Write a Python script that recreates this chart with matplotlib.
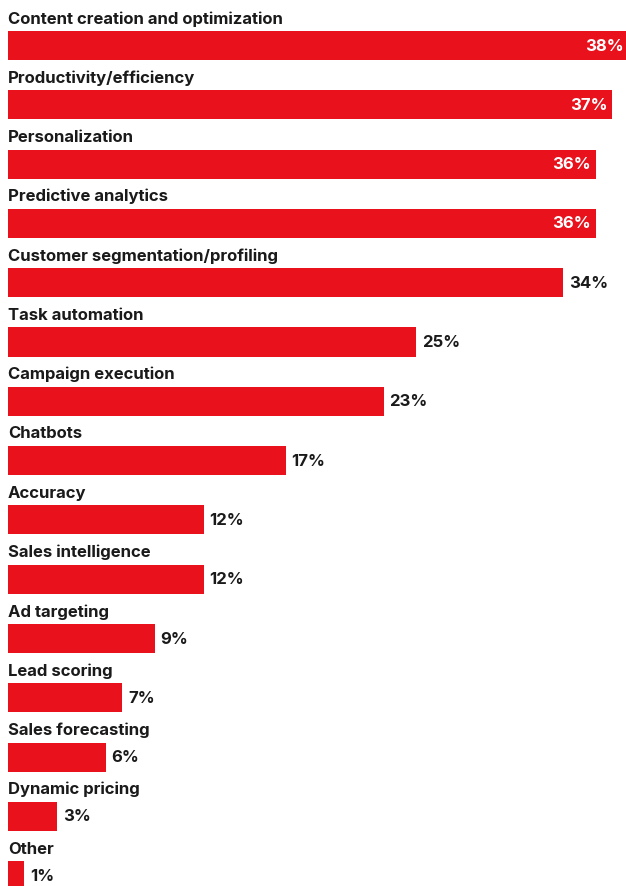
import matplotlib.pyplot as plt

categories = ['Content creation and optimization', 'Productivity/efficiency',
              'Personalization', 'Predictive analytics',
              'Customer segmentation/profiling', 'Task automation',
              'Campaign execution', 'Chatbots', 'Accuracy', 'Sales intelligence',
              'Ad targeting', 'Lead scoring', 'Sales forecasting',
              'Dynamic pricing', 'Other']
values = [38, 37, 36, 36, 34, 25, 23, 17, 12, 12, 9, 7, 6, 3, 1]

RED = '#E8111C'
plt.rcParams['font.family'] = ['Inter', 'DejaVu Sans']

fig = plt.figure(figsize=(6.26, 8.86), dpi=100)
ax = fig.add_axes([0, 0, 1, 1])

rows = list(range(len(categories)))
ax.barh(rows, values, height=0.49, color=RED, left=0)

for i, (cat, v) in enumerate(zip(categories, values)):
    ax.text(0, i - 0.45, cat, ha='left', va='center', fontsize=12,
            fontweight='bold', color='#1a1a1a')
    if v >= 35:
        ax.text(v - 0.3, i + 0.01, f'{v}%', ha='right', va='center',
                fontsize=12, fontweight='bold', color='white')
    else:
        ax.text(v + 0.35, i + 0.01, f'{v}%', ha='left', va='center',
                fontsize=12, fontweight='bold', color='#1a1a1a')

# 16.33 px per percent, bars start 8 px from left edge
ax.set_xlim(-8 / 16.33, 618 / 16.33)
ax.set_ylim((886 - 45.5) / 59.3, -45.5 / 59.3)
ax.axis('off')

fig.savefig('out.png', dpi=100)
